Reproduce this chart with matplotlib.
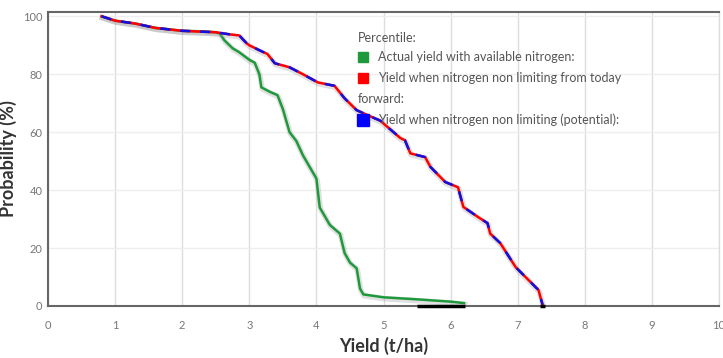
import numpy as np
import matplotlib
matplotlib.use("Agg")
import matplotlib.pyplot as plt
import matplotlib.patheffects as pe
from matplotlib.patches import Rectangle

# cumulative probability curves
actual_x = [0.8, 1.0, 1.3, 1.6, 2.0, 2.3, 2.5, 2.56, 2.63, 2.75, 2.85, 3.0, 3.08,
            3.15, 3.18, 3.3, 3.42, 3.5, 3.6, 3.7, 3.8, 3.9, 4.0, 4.05, 4.1, 4.2,
            4.35, 4.42, 4.5, 4.6, 4.65, 4.7, 5.0, 5.5, 6.0, 6.2]
actual_y = [100, 98.5, 97.5, 96, 95, 94.8, 94.5, 94, 91.7, 89, 87.6, 85, 84,
            80, 75.5, 74, 72.8, 68, 60, 57, 52, 48, 44, 34, 32, 28,
            25, 18.3, 15, 13, 6, 4, 3, 2.3, 1.5, 1]

potential_x = [0.8, 1.0, 1.3, 1.6, 2.0, 2.5, 2.7, 2.85, 2.96, 3.0, 3.15, 3.27,
               3.38, 3.6, 3.8, 4.02, 4.27, 4.42, 4.6, 4.8, 4.95, 5.1, 5.25,
               5.32, 5.4, 5.62, 5.7, 5.92, 6.11, 6.19, 6.41, 6.55, 6.59, 6.74,
               6.97, 7.19, 7.31, 7.37]
potential_y = [100, 98.5, 97.5, 96, 95, 94.5, 93.8, 93.4, 90.7, 90, 88.3, 87,
               83.8, 82.4, 80, 77.2, 76, 71.7, 67.6, 65.5, 64, 61, 58,
               57.2, 52.7, 51.4, 48, 42.8, 41, 34.2, 30.7, 28.6, 25, 21.7,
               13.4, 8.3, 5.5, 0.5]

# black marks sitting on the x axis
zero_marks = [(5.5, 6.22), (7.33, 7.41)]

x_ticks = list(range(0, 11))
y_ticks = [0, 20, 40, 60, 80, 100]

legend_title = "Percentile:"
legend_items = [
    ("#1e9a3c", "Actual yield with available nitrogen:"),
    ("#ff0000", "Yield when nitrogen non limiting from today"),
    ("#0000ff", "Yield when nitrogen non limiting (potential):"),
]

plt.rcParams['font.family'] = ['Lato', 'DejaVu Sans']

W, H = 723, 358
fig = plt.figure(figsize=(W / 100, H / 100), dpi=100)
ax = fig.add_axes([48 / W, (H - 306) / H, (719 - 48) / W, (306 - 12) / H])

shadow = [pe.SimpleLineShadow(offset=(0.5, -1), shadow_color='#999999', alpha=0.3, linewidth=4),
          pe.Normal()]

ax.plot(actual_x, actual_y, color='#1e9a3c', lw=1.8, path_effects=shadow, zorder=3)
ax.plot(potential_x, potential_y, color='#ff0000', lw=1.8, path_effects=shadow, zorder=4)
ax.plot(potential_x, potential_y, color='#1010e0', lw=1.8, dashes=(4, 4), zorder=5)

for a, b in zero_marks:
    ax.plot([a, b], [0, 0], color='black', lw=2.5, solid_capstyle='butt', zorder=6, clip_on=False)

ax.set_xlim(0, 10)
ax.set_ylim(0, 101.5)
ax.set_xticks(x_ticks)
ax.set_yticks(y_ticks)
ax.grid(axis='x', color='#dddddd', lw=1)
ax.grid(axis='y', color='#eeeeee', lw=1)
ax.tick_params(length=0, labelsize=8, colors='#777777')
ax.tick_params(axis='x', pad=10)
ax.tick_params(axis='y', pad=4)
for s in ax.spines.values():
    s.set_color('#666666')
    s.set_linewidth(1.5)
ax.spines['right'].set_color('#dddddd')
ax.spines['right'].set_linewidth(1)

ax.set_xlabel("Yield (t/ha)", fontsize=13, fontweight='bold', color='#333333', labelpad=4)
ax.set_ylabel("Probability (%)", fontsize=13, fontweight='bold', color='#333333', labelpad=4)

# legend drawn by hand in figure pixels
def fx(px):
    return px / W

def fy(py):
    return (H - py) / H

tcol = '#555555'
fig.text(fx(358), fy(38), legend_title, fontsize=9, color=tcol, va='center')
rows = [57, 78, 120]
for (col, label), py in zip(legend_items, rows):
    size = 12 if col == '#0000ff' else 10
    fig.add_artist(Rectangle((fx(363 - size / 2), fy(py + size / 2)), size / W, size / H,
                             transform=fig.transFigure, color=col, zorder=10))
    fig.text(fx(378), fy(py), label, fontsize=9, color=tcol, va='center', zorder=11)
fig.text(fx(358), fy(99), "forward:", fontsize=9, color=tcol, va='center')

fig.savefig("out.png", dpi=100)
